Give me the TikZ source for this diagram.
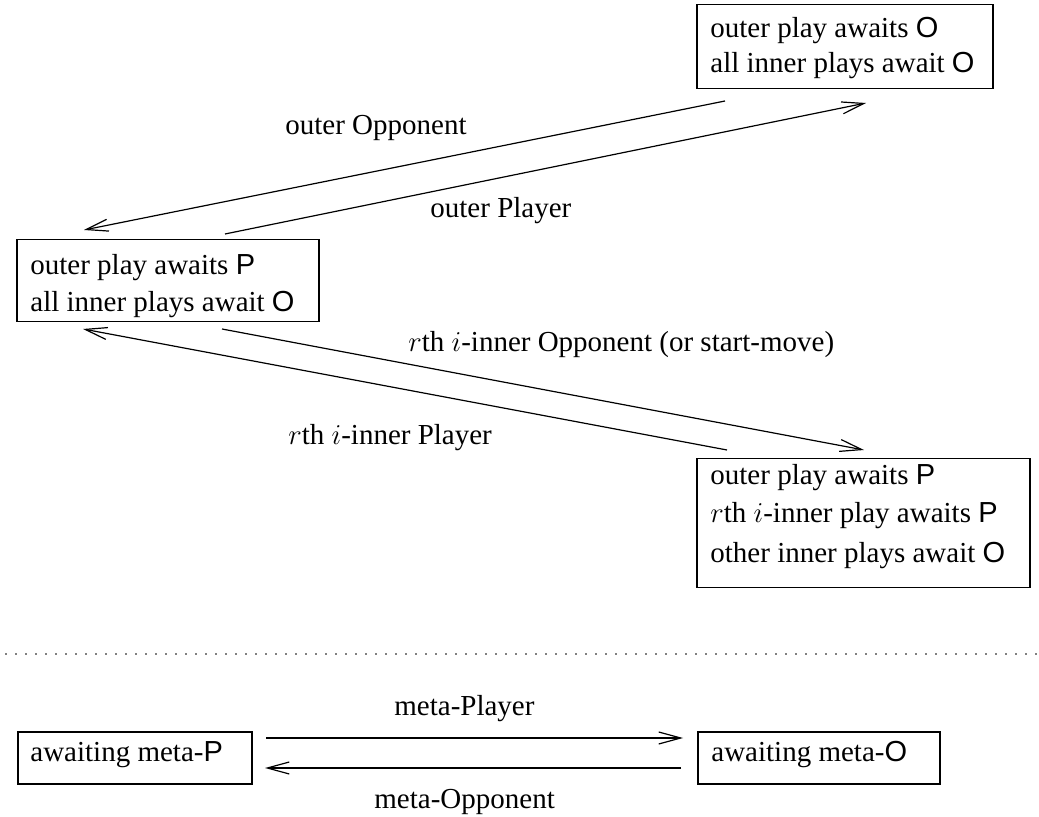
\documentclass[tikz,border=0pt]{standalone}
\usepackage{fontspec}
\setmainfont{Liberation Serif}
\newfontfamily\hv{Liberation Sans}
\usetikzlibrary{arrows.meta}
\newcommand\markP{{\hv P}}
\newcommand\markO{{\hv O}}
\tikzset{
  statebox/.style={draw, line width=0.75pt, anchor=north west, inner sep=0pt},
  txt/.style={anchor=base west, inner sep=0pt, font=\fontsize{14.5}{17}\selectfont},
  move/.style={line width=0.6pt, -{Straight Barb[length=11pt, width=6pt, line width=0.6pt]}},
  sep/.style={line width=1pt, gray, dash pattern=on 1pt off 4pt},
}
\begin{document}
\begin{tikzpicture}[x=0.5pt, y=-0.5pt]
\useasboundingbox (0,0) rectangle (1039,817);

% state boxes
\node[statebox, minimum width=148pt, minimum height=42pt] (A) at (696,4) {};
\node[statebox, minimum width=151pt, minimum height=41pt] (B) at (16,239) {};
\node[statebox, minimum width=166.5pt, minimum height=64.5pt] (C) at (696,458) {};
\node[statebox, minimum width=117pt, minimum height=26pt] (D) at (17,731) {};
\node[statebox, minimum width=121pt, minimum height=26pt] (E) at (697,731) {};

% box contents
\node[txt] (A1) at (710,38) {outer play awaits \markO};
\node[txt] (A2) at (710,73) {all inner plays await \markO};
\node[txt] (B1) at (30,275) {outer play awaits \markP};
\node[txt] (B2) at (30,312) {all inner plays await \markO};
\node[txt] (C1) at (710,485) {outer play awaits \markP};
\node[txt] (C2) at (710,523) {$r$th $i$-inner play awaits \markP};
\node[txt] (C3) at (710,563) {other inner plays await \markO};
\node[txt] (D1) at (30,762) {awaiting meta-\markP};
\node[txt] (E1) at (711,762) {awaiting meta-\markO};

% transition end points
\coordinate (a1s) at (725,101);
\coordinate (a1e) at (84,230);
\coordinate (a2s) at (225,234);
\coordinate (a2e) at (866,103);
\coordinate (a3s) at (222,329);
\coordinate (a3e) at (864,450);
\coordinate (a4s) at (727,450);
\coordinate (a4e) at (83,329);
\coordinate (m1s) at (266,738);
\coordinate (m1e) at (683,738);
\coordinate (m2s) at (681,768);
\coordinate (m2e) at (265,768);

% transitions
\draw[move] (a1s) -- (a1e);
\draw[move] (a2s) -- (a2e);
\draw[move] (a3s) -- (a3e);
\draw[move] (a4s) -- (a4e);
\draw[move] (m1s) -- (m1e);
\draw[move] (m2s) -- (m2e);

% transition labels
\node[txt] (l1) at (285,135) {outer Opponent};
\node[txt] (l2) at (430,218) {outer Player};
\node[txt] (l3) at (408,352) {$r$th $i$-inner Opponent (or start-move)};
\node[txt] (l4) at (288,445) {$r$th $i$-inner Player};
\node[txt] (l5) at (394,716) {meta-Player};
\node[txt] (l6) at (374,808) {meta-Opponent};

% separator
\coordinate (s0) at (5,654);
\coordinate (s1) at (1039,654);
\draw[sep] (s0) -- (s1);
\end{tikzpicture}
\end{document}
